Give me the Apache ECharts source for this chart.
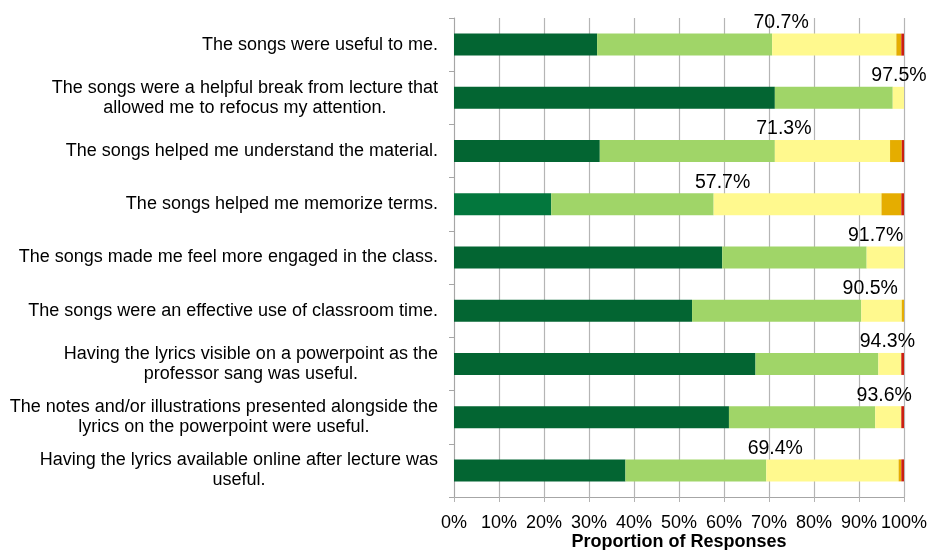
<!DOCTYPE html>
<html>
<head>
<meta charset="utf-8">
<script src="https://cdn.jsdelivr.net/npm/echarts@6/dist/echarts.min.js"></script>
<style>
  html, body { margin: 0; padding: 0; background: #fff; }
  #chart { width: 928px; height: 550px; }
</style>
</head>
<body>
<div id="chart"></div>
<script>
// statements, top to bottom
const statements = [
  'The songs were useful to me.',
  'The songs were a helpful break from lecture that\nallowed me to refocus my attention.',
  'The songs helped me understand the material.',
  'The songs helped me memorize terms.',
  'The songs made me feel more engaged in the class.',
  'The songs were an effective use of classroom time.',
  'Having the lyrics visible on a powerpoint as the\nprofessor sang was useful.',
  'The notes and/or illustrations presented alongside the\nlyrics on the powerpoint were useful.',
  'Having the lyrics available online after lecture was\nuseful.'
];

// proportion of responses (%) per answer
const stronglyAgree    = [31.8, 71.3, 32.4, 21.6, 59.6, 52.9, 67.0, 61.1, 38.1];
const agree            = [38.9, 26.2, 38.9, 36.1, 32.1, 37.6, 27.3, 32.5, 31.3];
const neutral          = [27.6,  2.5, 25.6, 37.3,  8.3,  9.0,  5.1,  5.8, 29.4];
const disagree         = [ 1.1,  0,    2.6,  4.4,  0,    0.5,  0,    0,    0.6];
const stronglyDisagree = [ 0.6,  0,    0.5,  0.6,  0,    0,    0.6,  0.6,  0.6];

const xTicks = [0, 10, 20, 30, 40, 50, 60, 70, 80, 90, 100];

let myChart = echarts.init(document.getElementById('chart'));

const font = '"Liberation Sans", Arial, sans-serif';
const accentRow = 3; // this row is drawn in a slightly brighter green

// percentage of positive answers shown above each bar
let agreeTotals = stronglyAgree.map((v, i) => Math.round((v + agree[i]) * 10) / 10);

function bar(name, values, color) {
  return {
    name: name,
    type: 'bar',
    stack: 'total',
    barWidth: 22,
    itemStyle: { color: color },
    data: values
  };
}

let strongSeries = bar('Strongly agree', stronglyAgree.map((v, i) => i === accentRow
  ? { value: v, itemStyle: { color: '#03773d' } } : v), '#036532');

let agreeSeries = bar('Agree', agree.map((v, i) => ({
  value: v,
  label: {
    show: true,
    // keep labels of nearly full bars inside the canvas
    offset: [Math.min(9, (100 - agreeTotals[i]) * 4.5 - 5), -1],
    formatter: agreeTotals[i].toFixed(1) + '%'
  }
})), '#a0d568');
agreeSeries.label = {
  position: ['100%', 0],
  align: 'center',
  verticalAlign: 'bottom',
  fontFamily: font,
  fontSize: 19.5,
  color: '#000'
};

let option = {
  animation: false,
  textStyle: { fontFamily: font },
  grid: { left: 454, right: 24, top: 18, bottom: 53, containLabel: false, outerBoundsMode: 'none' },
  xAxis: {
    type: 'value',
    min: xTicks[0],
    max: xTicks[xTicks.length - 1],
    interval: 10,
    name: 'Proportion of Responses',
    nameLocation: 'middle',
    nameGap: 36,
    nameMoveOverlap: false,
    nameTextStyle: { fontFamily: font, fontSize: 18, fontWeight: 'bold', color: '#000', verticalAlign: 'top' },
    axisLine: { show: true, lineStyle: { color: '#a6a6a6', width: 1 } },
    axisTick: { show: true, length: 5, lineStyle: { color: '#b3b3b3' } },
    axisLabel: { formatter: '{value}%', margin: 17, fontFamily: font, fontSize: 18, color: '#000' },
    splitLine: { show: true, showMinLine: true, showMaxLine: true, lineStyle: { color: '#b5b5b5', width: 1.2, type: 'solid', opacity: 1 } }
  },
  yAxis: {
    type: 'category',
    inverse: true,
    data: statements,
    axisLine: { show: true, lineStyle: { color: '#a6a6a6', width: 1 } },
    axisTick: { show: true, length: 5, lineStyle: { color: '#a6a6a6' } },
    axisLabel: {
      margin: 16,
      align: 'right',
      formatter: v => v.split('\n').map(l => '{c|' + l + '}').join('\n'),
      rich: { c: { align: 'center', fontFamily: font, fontSize: 18, lineHeight: 20, color: '#000' } }
    },
    splitLine: { show: false }
  },
  series: [
    strongSeries,
    agreeSeries,
    bar('Neutral', neutral, '#fff98e'),
    bar('Disagree', disagree, '#e5ad00'),
    bar('Strongly disagree', stronglyDisagree, '#cc1f10')
  ]
};

myChart.setOption(option);
</script>
</body>
</html>
